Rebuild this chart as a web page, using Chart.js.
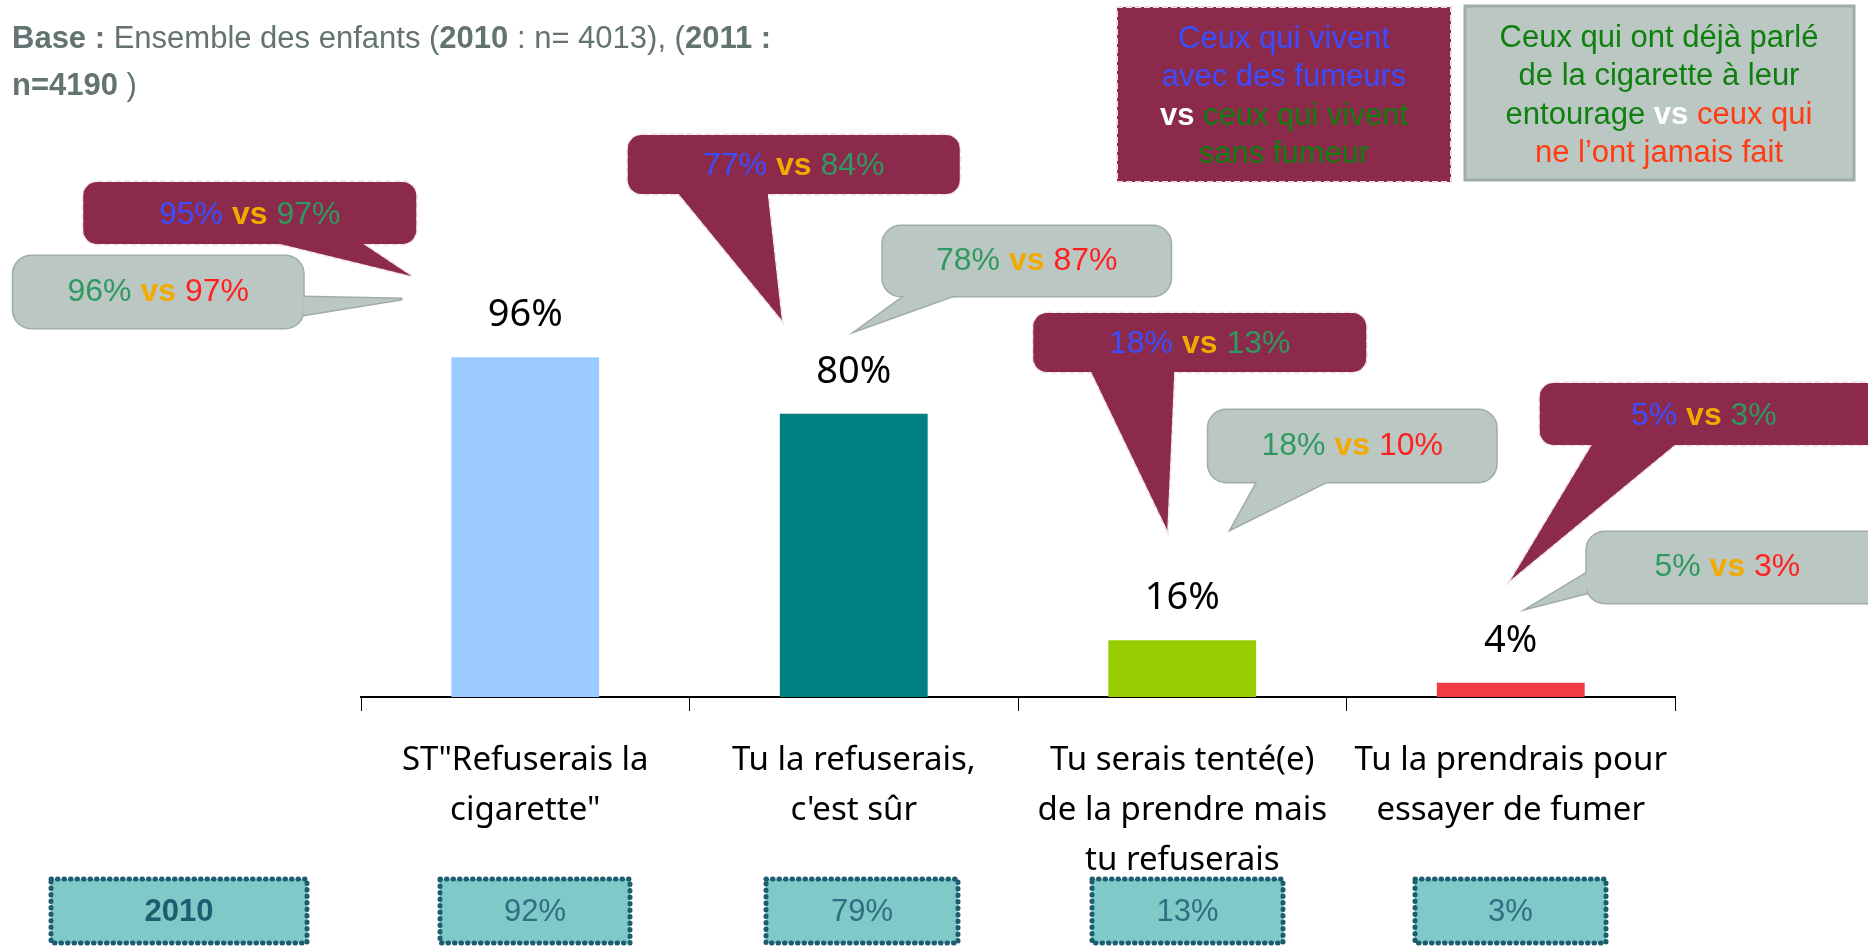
<!DOCTYPE html>
<html>
<head>
<meta charset="utf-8">
<script src="https://cdn.jsdelivr.net/npm/chart.js@4"></script>
<style>
  body { margin: 0; background: #fff; }
  #wrap { width: 1868px; height: 946px; position: relative; }
</style>
</head>
<body>
<div id="wrap"><canvas id="data-chart"></canvas></div>
<script>
// data
const categories = [
    ['ST"Refuserais la', 'cigarette"'],
    ['Tu la refuserais,', "c'est sûr"],
    ['Tu serais tenté(e)', 'de la prendre mais', 'tu refuserais'],
    ['Tu la prendrais pour', 'essayer de fumer']
];
const values2011 = [96, 80, 16, 4];
const values2010 = [92, 79, 13, 3];
const withSmokers = [95, 77, 18, 5];
const withoutSmokers = [97, 84, 13, 3];
const talked = [96, 78, 18, 5];
const neverTalked = [97, 87, 10, 3];
const barColors = ['#9ccbff', '#008080', '#99cc00', '#f03c42'];

// callout geometry, relative to the bar centre (dx) and absolute y
const maroonCallouts = [
    { x0: -442, x1: -109, y0: 182, y1: 244, tail: [[-245, 244], [-162, 244], [-114, 276]] },
    { x0: -226, x1: 106, y0: 135, y1: 194, tail: [[-175, 194], [-86, 194], [-72, 320]] },
    { x0: -149, x1: 184, y0: 313, y1: 372, tail: [[-91, 372], [-8, 372], [-15, 530]] },
    { x0: 29, x1: 380, y0: 383, y1: 445, tail: [[81, 445], [164, 445], [0, 580]] }
];
const grayCallouts = [
    { x0: -512, x1: -222, y0: 256, y1: 328, tail: [[-222, 297], [-222, 315], [-123, 299]] },
    { x0: 29, x1: 317, y0: 226, y1: 296, tail: [[51, 296], [99, 296], [4, 330]] },
    { x0: 26, x1: 314, y0: 410, y1: 482, tail: [[75, 482], [144, 482], [49, 529]] },
    { x0: 76, x1: 380, y0: 532, y1: 603, tail: [[76, 573], [76, 593], [18, 608]] }
];
const row2010 = [[51, 307], [440, 630], [766, 958], [1092, 1283], [1415, 1606]];

const BLUE = '#3a4dff', GREEN = '#2e9960', ORANGE = '#f2a900', RED = '#ff1f1f';
const MAROON = '#8c2a4b', GRAY = '#bbc7c2', GRAYLINE = '#a0aca8';
const TITLE = '#627372';
const SANS = '"Liberation Sans", Arial, sans-serif';
const ROUND = '"Noto Sans", "DejaVu Sans", sans-serif';

function drawRich(ctx, parts, x, cy, size, align) {
    let total = 0;
    parts.forEach(p => {
        ctx.font = (p.b ? 'bold ' : '') + size + 'px ' + SANS;
        p.w = ctx.measureText(p.t).width;
        total += p.w;
    });
    if (align !== 'left') x = x - total / 2;
    ctx.textAlign = 'left';
    ctx.textBaseline = 'middle';
    parts.forEach(p => {
        ctx.font = (p.b ? 'bold ' : '') + size + 'px ' + SANS;
        ctx.fillStyle = p.c;
        ctx.fillText(p.t, x, cy);
        x += p.w;
    });
}

function roundRect(ctx, x0, y0, x1, y1, r) {
    ctx.beginPath();
    ctx.roundRect(x0, y0, x1 - x0, y1 - y0, r);
}

function callout(ctx, cx, c, fill, line, dash, radius) {
    const tri = () => {
        ctx.beginPath();
        ctx.moveTo(cx + c.tail[0][0], c.tail[0][1]);
        ctx.lineTo(cx + c.tail[2][0], c.tail[2][1]);
        ctx.lineTo(cx + c.tail[1][0], c.tail[1][1]);
        ctx.closePath();
    };
    ctx.save();
    ctx.strokeStyle = line;
    ctx.lineWidth = 3;
    ctx.setLineDash(dash);
    roundRect(ctx, cx + c.x0, c.y0, cx + c.x1, c.y1, radius);
    ctx.stroke();
    tri();
    ctx.stroke();
    ctx.fillStyle = fill;
    roundRect(ctx, cx + c.x0, c.y0, cx + c.x1, c.y1, radius);
    ctx.fill();
    tri();
    ctx.fill();
    ctx.restore();
}

const extras = {
    id: 'extras',
    afterDraw(chart) {
        const ctx = chart.ctx;
        const meta = chart.getDatasetMeta(0);
        ctx.save();

        // title
        drawRich(ctx, [
            { t: 'Base : ', c: TITLE, b: true }, { t: 'Ensemble des enfants (', c: TITLE },
            { t: '2010', c: TITLE, b: true }, { t: ' : n= 4013), (', c: TITLE },
            { t: '2011 :', c: TITLE, b: true }
        ], 12, 39, 31, 'left');
        drawRich(ctx, [{ t: 'n=4190', c: TITLE, b: true }, { t: ' )', c: TITLE }], 12, 86, 31, 'left');

        // legend boxes
        ctx.fillStyle = MAROON;
        ctx.fillRect(1117, 7, 334, 175);
        ctx.strokeStyle = '#f2dde4';
        ctx.lineWidth = 2;
        ctx.setLineDash([6, 3]);
        ctx.strokeRect(1117, 7, 334, 175);
        ctx.setLineDash([]);
        const lg1 = [
            [{ t: 'Ceux qui vivent', c: BLUE }],
            [{ t: 'avec des fumeurs', c: BLUE }],
            [{ t: 'vs ', c: '#fff', b: true }, { t: 'ceux qui vivent', c: '#0f7f0f' }],
            [{ t: 'sans fumeur', c: '#0f7f0f' }]
        ];
        lg1.forEach((l, i) => drawRich(ctx, l, 1284, 39 + i * 38.5, 31));

        ctx.fillStyle = GRAY;
        ctx.fillRect(1465, 6, 389, 174);
        ctx.strokeStyle = GRAYLINE;
        ctx.lineWidth = 3;
        ctx.strokeRect(1465, 6, 389, 174);
        const lg2 = [
            [{ t: 'Ceux qui ont déjà parlé', c: '#0f7f0f' }],
            [{ t: 'de la cigarette à leur', c: '#0f7f0f' }],
            [{ t: 'entourage ', c: '#0f7f0f' }, { t: 'vs', c: '#fff', b: true }, { t: ' ceux qui', c: '#ff3c14' }],
            [{ t: 'ne l’ont jamais fait', c: '#ff3c14' }]
        ];
        lg2.forEach((l, i) => drawRich(ctx, l, 1659, 38 + i * 38.5, 31));

        // callouts, centred on bars
        meta.data.forEach((bar, i) => {
            const cx = bar.x;
            const m = maroonCallouts[i];
            callout(ctx, cx, m, MAROON, '#f2dde4', [6, 3], 14);
            drawRich(ctx, [
                { t: withSmokers[i] + '% ', c: BLUE }, { t: 'vs', c: ORANGE, b: true },
                { t: ' ' + withoutSmokers[i] + '%', c: GREEN }
            ], cx + (m.x0 + Math.min(m.x1, 1868 - cx)) / 2, (m.y0 + m.y1) / 2 + 2, 32);
            const g = grayCallouts[i];
            callout(ctx, cx, g, GRAY, GRAYLINE, [], 18);
            drawRich(ctx, [
                { t: talked[i] + '% ', c: GREEN }, { t: 'vs', c: ORANGE, b: true },
                { t: ' ' + neverTalked[i] + '%', c: RED }
            ], cx + (g.x0 + Math.min(g.x1, 1868 - cx)) / 2, (g.y0 + g.y1) / 2, 32);
        });

        // value labels
        ctx.font = '38px ' + ROUND;
        ctx.fillStyle = '#000';
        ctx.textAlign = 'center';
        ctx.textBaseline = 'middle';
        meta.data.forEach((bar, i) => {
            ctx.fillText(values2011[i] + '%', bar.x, bar.y - 42);
        });

        // 2010 row
        const rowText = ['2010'].concat(values2010.map(v => v + '%'));
        row2010.forEach((r, i) => {
            ctx.fillStyle = '#7fc9c9';
            ctx.fillRect(r[0], 879, r[1] - r[0], 64);
            ctx.strokeStyle = '#1d5d70';
            ctx.lineWidth = 5;
            ctx.lineCap = 'round';
            ctx.setLineDash([0.5, 6]);
            ctx.strokeRect(r[0], 879, r[1] - r[0], 64);
            ctx.setLineDash([]);
            ctx.font = (i === 0 ? 'bold ' : '') + '31px ' + SANS;
            ctx.fillStyle = i === 0 ? '#1d5d70' : '#2f6f80';
            ctx.textAlign = 'center';
            ctx.fillText(rowText[i], (r[0] + r[1]) / 2, 912);
        });
        ctx.restore();
    }
};

const ctx = document.getElementById('data-chart').getContext('2d');
new Chart(ctx, {
    type: 'bar',
    data: {
        labels: categories,
        datasets: [{
            label: '2011',
            data: values2011,
            backgroundColor: barColors,
            barPercentage: 0.9,
            categoryPercentage: 0.5
        }]
    },
    options: {
        responsive: true,
        maintainAspectRatio: false,
        animation: false,
        layout: { padding: { top: 343, left: 361, right: 193, bottom: 0 } },
        plugins: { legend: { display: false }, tooltip: { enabled: false } },
        scales: {
            y: { display: false, min: 0, max: 100 },
            x: {
                afterFit: scale => { scale.height = 249; },
                border: { display: true, color: '#000', width: 2 },
                grid: { display: true, offset: true, drawOnChartArea: false, drawTicks: true, tickLength: 14, color: '#000', lineWidth: 1 },
                ticks: {
                    color: '#000',
                    padding: 25,
                    maxRotation: 0,
                    autoSkip: false,
                    font: { family: ROUND, size: 33, lineHeight: 50 / 33 }
                }
            }
        }
    },
    plugins: [extras]
});
</script>
</body>
</html>
